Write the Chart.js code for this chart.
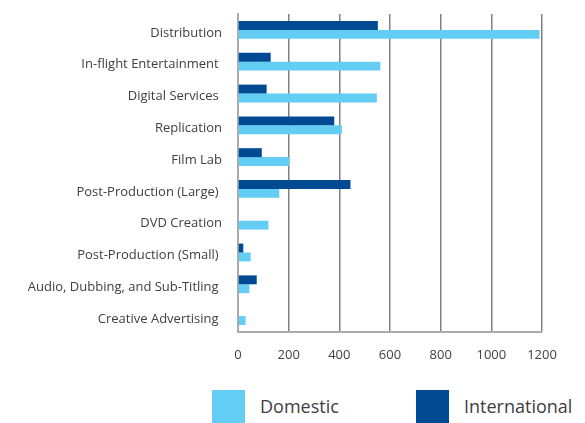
<!DOCTYPE html>
<html>
<head>
<meta charset="utf-8">
<script src="https://cdn.jsdelivr.net/npm/chart.js@4/dist/chart.umd.min.js"></script>
<style>
    html, body { margin: 0; padding: 0; background: #fff; }
    #wrap { position: relative; width: 585px; height: 423px; overflow: hidden; }
    #chart { position: absolute; left: 0; top: 0; }
    .legend-item { position: absolute; top: 390px; height: 33px; font-family: "Open Sans", sans-serif; font-size: 18px; color: #404040; }
    .legend-item span.box { position: absolute; left: 0; top: 0; width: 33px; height: 33px; }
    .legend-item span.txt { position: absolute; left: 48px; top: 4px; white-space: nowrap; }
</style>
</head>
<body>
<div id="wrap">
    <canvas id="chart" width="585" height="380"></canvas>
    <div id="legend"></div>
</div>
<script>
// Service lines, top to bottom
const categories = [
    'Distribution',
    'In-flight Entertainment ',
    'Digital Services ',
    'Replication',
    'Film Lab',
    'Post-Production (Large) ',
    'DVD Creation',
    'Post-Production (Small) ',
    'Audio, Dubbing, and Sub-Titling ',
    'Creative Advertising '
];

const domestic      = [1190, 562, 548, 410, 203, 163, 120, 50, 45, 30];
const international = [552, 129, 113, 380, 94, 444, 0, 21, 74, 0];

const xTicks = [0, 200, 400, 600, 800, 1000, 1200];

const colors = {
    domestic: '#63cdf4',
    international: '#004a93',
    text: '#404040',
    grid: '#808080',
    axis: '#ababab'
};

const fontFamily = '"Open Sans", sans-serif';

const ctx = document.getElementById('chart').getContext('2d');

const chart = new Chart(ctx, {
    type: 'bar',
    data: {
        labels: categories,
        datasets: [
            {
                label: 'International',
                data: international,
                backgroundColor: colors.international,
                categoryPercentage: 0.56,
                barPercentage: 1.0
            },
            {
                label: 'Domestic',
                data: domestic,
                backgroundColor: colors.domestic,
                categoryPercentage: 0.56,
                barPercentage: 1.0
            }
        ]
    },
    options: {
        indexAxis: 'y',
        responsive: false,
        animation: false,
        layout: {
            padding: { top: 14, right: 43, left: 0, bottom: 0 }
        },
        plugins: {
            legend: { display: false },
            tooltip: { enabled: false }
        },
        scales: {
            x: {
                min: 0,
                max: 1200,
                afterBuildTicks: scale => {
                    scale.ticks = xTicks.map(v => ({ value: v }));
                },
                afterFit: scale => { scale.height = 48; },
                grid: {
                    drawTicks: false,
                    color: c => (c.tick && c.tick.value === 0) ? 'rgba(0,0,0,0)' : colors.grid,
                    lineWidth: 1.5
                },
                border: { display: true, color: colors.axis, width: 2 },
                ticks: {
                    padding: 15,
                    color: colors.text,
                    font: { family: fontFamily, size: 13 },
                    callback: value => String(value)
                }
            },
            y: {
                afterFit: scale => {
                    scale.width = 238;
                    // labels sit inside their bands, no extra room above/below
                    scale.paddingTop = 0;
                    scale.paddingBottom = 0;
                },
                grid: { display: false, drawTicks: false },
                border: { display: true, color: colors.axis, width: 2 },
                ticks: {
                    padding: 16,
                    labelOffset: 3,
                    color: colors.text,
                    font: { family: fontFamily, size: 13 }
                }
            }
        }
    }
});

// Legend below the plot: Domestic, then International
const legendEl = document.getElementById('legend');
[
    { label: 'Domestic', color: colors.domestic, left: 212 },
    { label: 'International', color: colors.international, left: 416 }
].forEach(item => {
    const div = document.createElement('div');
    div.className = 'legend-item';
    div.style.left = item.left + 'px';
    div.innerHTML = '<span class="box" style="background:' + item.color + '"></span><span class="txt">' + item.label + '</span>';
    legendEl.appendChild(div);
});
</script>
</body>
</html>
